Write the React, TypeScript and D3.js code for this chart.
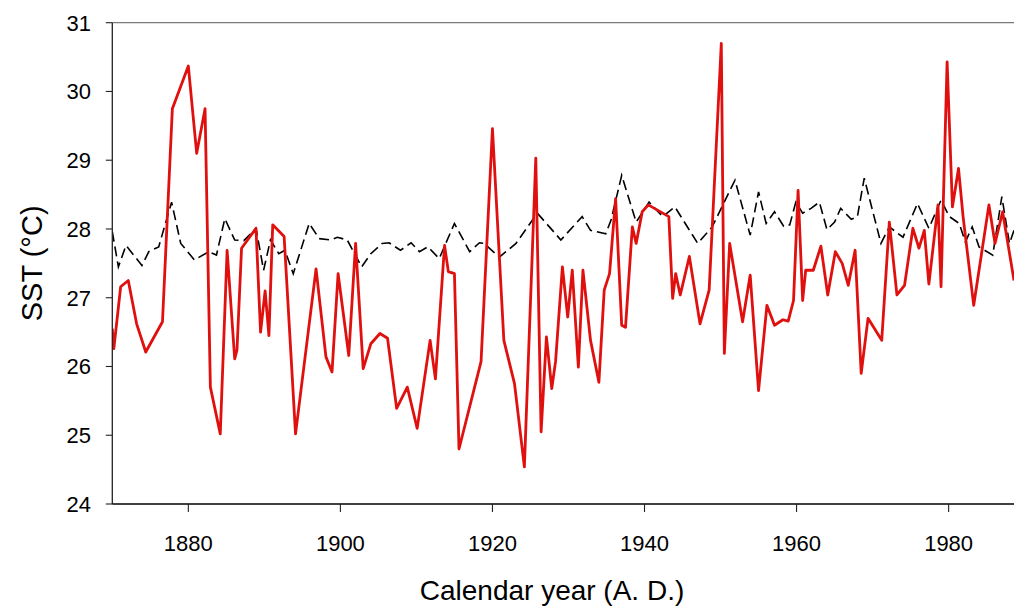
import React from "react";
import * as d3 from "d3";

// Red series (coral SST reconstruction)
const redYears = [
  1870.0, 1870.2, 1871.1, 1872.1, 1873.2, 1874.4, 1876.6, 1877.9, 1880.0, 1881.1,
  1882.2, 1882.9, 1884.2, 1885.1, 1886.1, 1886.4, 1887.0, 1888.9, 1889.5, 1890.1,
  1890.6, 1891.1, 1892.6, 1894.1, 1896.8, 1898.1, 1898.9, 1899.7, 1901.1, 1902.0,
  1903.0, 1904.0, 1905.2, 1906.2, 1907.4, 1908.8, 1910.1, 1911.8, 1912.5, 1913.7,
  1914.2, 1915.0, 1915.6, 1918.5, 1920.0, 1921.5, 1922.9, 1924.2, 1925.7, 1926.4,
  1927.1, 1927.8, 1928.3, 1929.2, 1929.9, 1930.5, 1931.3, 1931.9, 1932.9, 1934.0,
  1934.7, 1935.4, 1936.2, 1937.0, 1937.5, 1938.4, 1938.9, 1939.7, 1940.5, 1943.2,
  1943.7, 1944.1, 1944.7, 1945.9, 1947.3, 1948.5, 1950.1, 1950.5, 1951.2, 1952.9,
  1953.9, 1955.0, 1956.1, 1957.1, 1958.2, 1958.9, 1959.6, 1960.2, 1960.8, 1961.2,
  1962.2, 1963.2, 1964.1, 1965.1, 1966.0, 1966.8, 1967.7, 1968.5, 1969.4, 1971.2,
  1972.2, 1973.2, 1974.2, 1975.3, 1976.1, 1976.8, 1977.4, 1978.6, 1979.0, 1979.8,
  1980.5, 1981.3, 1981.9, 1983.3, 1985.3, 1986.1, 1987.1, 1988.6,
];
const redSST = [
  26.55, 26.26, 27.16, 27.25, 26.62, 26.21, 26.65, 29.75, 30.37, 29.10,
  29.75, 25.70, 25.02, 27.69, 26.11, 26.24, 27.72, 28.01, 26.50, 27.10,
  26.45, 28.06, 27.89, 25.02, 27.42, 26.14, 25.92, 27.35, 26.16, 27.79,
  25.97, 26.33, 26.48, 26.41, 25.39, 25.70, 25.10, 26.38, 25.82, 27.76,
  27.38, 27.35, 24.80, 26.07, 29.46, 26.38, 25.75, 24.54, 29.03, 25.05,
  26.43, 25.68, 26.07, 27.45, 26.72, 27.40, 25.99, 27.40, 26.38, 25.77,
  27.11, 27.35, 28.44, 26.60, 26.57, 28.03, 27.79, 28.25, 28.35, 28.18,
  26.99, 27.35, 27.04, 27.60, 26.62, 27.11, 30.70, 26.19, 27.79, 26.65,
  27.33, 25.65, 26.89, 26.60, 26.68, 26.66, 26.96, 28.56, 26.96, 27.40,
  27.40, 27.75, 27.04, 27.67, 27.50, 27.18, 27.69, 25.90, 26.70, 26.38,
  28.10, 27.04, 27.18, 28.01, 27.72, 27.98, 27.20, 28.35, 27.16, 30.43,
  28.32, 28.88, 28.18, 26.89, 28.35, 27.79, 28.25, 27.25,
];

// Black dashed series (instrumental SST)
const dashYears = [
  1870.0, 1870.8, 1871.8, 1873.9, 1874.8, 1876.1, 1877.8, 1879.0, 1880.8, 1882.7,
  1883.7, 1884.8, 1886.1, 1887.3, 1888.9, 1889.9, 1890.8, 1891.9, 1892.7, 1893.8,
  1895.9, 1897.2, 1898.7, 1899.6, 1900.9, 1902.8, 1904.0, 1905.5, 1906.4, 1907.9,
  1909.3, 1910.4, 1911.5, 1913.0, 1915.0, 1917.0, 1918.3, 1918.9, 1920.9, 1923.1,
  1925.9, 1929.0, 1931.8, 1932.9, 1934.9, 1935.6, 1937.0, 1938.9, 1940.6, 1942.4,
  1944.0, 1947.0, 1948.9, 1951.9, 1953.9, 1955.0, 1956.0, 1957.1, 1958.3, 1959.1,
  1959.9, 1960.8, 1961.9, 1963.0, 1964.0, 1965.0, 1965.8, 1967.2, 1968.0, 1968.9,
  1971.1, 1972.2, 1974.0, 1975.9, 1977.4, 1979.0, 1980.1, 1981.4, 1982.2, 1983.1,
  1984.0, 1985.8, 1987.0, 1988.0, 1988.6,
];
const dashSST = [
  27.96, 27.45, 27.76, 27.47, 27.67, 27.74, 28.39, 27.79, 27.55, 27.67,
  27.62, 28.15, 27.84, 27.83, 28.01, 27.40, 27.84, 27.64, 27.69, 27.35,
  28.08, 27.86, 27.84, 27.88, 27.84, 27.45, 27.64, 27.79, 27.80, 27.69,
  27.80, 27.67, 27.74, 27.57, 28.08, 27.67, 27.80, 27.79, 27.59, 27.79,
  28.23, 27.84, 28.18, 27.98, 27.93, 28.13, 28.78, 28.10, 28.39, 28.18,
  28.32, 27.79, 28.03, 28.71, 27.91, 28.54, 28.08, 28.25, 28.04, 28.06,
  28.39, 28.23, 28.30, 28.39, 27.99, 28.10, 28.30, 28.14, 28.18, 28.74,
  27.79, 28.03, 27.88, 28.37, 28.01, 28.42, 28.18, 28.08, 27.81, 28.03,
  27.74, 27.62, 28.47, 27.79, 27.98,
];

const xTicks = [1880, 1900, 1920, 1940, 1960, 1980];
const yTicks = [24, 25, 26, 27, 28, 29, 30, 31];

const W = 1014;
const H = 609;
const left = 112.3;
const top = 22.7;
const bottom = 504;

export default function App() {
  const x = d3.scaleLinear().domain([1870, 1990]).range([left, left + 120 * 7.603]);
  const y = d3.scaleLinear().domain([24, 31]).range([bottom, top]);

  const line = d3
    .line<[number, number]>()
    .x((d) => x(d[0]))
    .y((d) => y(d[1]));

  const redPts: [number, number][] = redYears.map((yr, i) => [yr, redSST[i]]);
  const dashPts: [number, number][] = dashYears.map((yr, i) => [yr, dashSST[i]]);

  const font = "'Liberation Sans', Arial, sans-serif";

  return (
    <svg
      width={W}
      height={H}
      style={{ position: "absolute", left: 0, top: 0, background: "#fff" }}
      fontFamily={font}
    >
      <defs>
        <clipPath id="plot">
          <rect x={left} y={top - 2} width={W - left} height={bottom - top + 4} />
        </clipPath>
      </defs>
      <rect x={0} y={0} width={W} height={H} fill="#fff" />
      {/* top frame line */}
      <line x1={left} x2={W} y1={top} y2={top} stroke="#7a7a7a" strokeWidth={1.3} />
      <g clipPath="url(#plot)">
        <path d={line(dashPts) || ""} fill="none" stroke="#000" strokeWidth={1.6} strokeDasharray="10,5" />
        <path d={line(redPts) || ""} fill="none" stroke="#e0100f" strokeWidth={2.8} strokeLinejoin="round" />
      </g>
      {/* axes */}
      <line x1={left} x2={left} y1={top} y2={bottom} stroke="#222" strokeWidth={1.3} />
      <line x1={left} x2={W} y1={bottom} y2={bottom} stroke="#000" strokeWidth={1.3} />
      {yTicks.map((t) => (
        <g key={"y" + t}>
          <line x1={left - 6.5} x2={left} y1={y(t)} y2={y(t)} stroke="#222" strokeWidth={1.1} />
          <text x={91} y={y(t)} dy="0.36em" textAnchor="end" fontSize={22} fill="#000">
            {t}
          </text>
        </g>
      ))}
      {xTicks.map((t) => (
        <g key={"x" + t}>
          <line x1={x(t)} x2={x(t)} y1={bottom} y2={bottom + 8} stroke="#222" strokeWidth={1.1} />
          <text x={x(t)} y={551} textAnchor="middle" fontSize={22} fill="#000">
            {t}
          </text>
        </g>
      ))}
      <text x={552} y={600} textAnchor="middle" fontSize={28} fill="#000">
        Calendar year (A. D.)
      </text>
      <text
        transform={`translate(42, ${(top + bottom) / 2}) rotate(-90)`}
        textAnchor="middle"
        fontSize={29}
        fill="#000"
      >
        SST (°C)
      </text>
    </svg>
  );
}
